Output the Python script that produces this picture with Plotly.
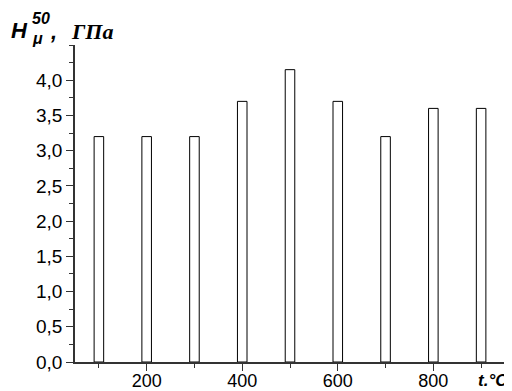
import plotly.graph_objects as go

temperatures = [100, 200, 300, 400, 500, 600, 700, 800, 900]
hardness = [3.2, 3.2, 3.2, 3.7, 4.15, 3.7, 3.2, 3.6, 3.6]
x_tick_vals = [200, 400, 600, 800]
x_tick_text = ["200", "400", "600", "800"]
y_tick_vals = [0.0, 0.5, 1.0, 1.5, 2.0, 2.5, 3.0, 3.5, 4.0]
y_tick_text = ["0,0", "0,5", "1,0", "1,5", "2,0", "2,5", "3,0", "3,5", "4,0"]

# the page body has an 8px margin, so the figure starts at (8, 8) in the window
OFF = 8
W, H = 512 - OFF, 391 - OFF
L, R, T, B = 75 - OFF, 7, 45 - OFF, 29
pw, ph = W - L - R, H - T - B

def px_x(px):  # window pixel -> paper
    return (px - OFF - L) / pw

def px_y(py):
    return (H - B - (py - OFF)) / ph

fig = go.Figure()
fig.add_trace(go.Bar(
    x=temperatures, y=hardness, width=20,
    marker=dict(color="white", line=dict(color="black", width=1)),
))

font = "Liberation Sans, Arial, sans-serif"
serif = "Liberation Serif, Times New Roman, serif"
axis_col = "#333333"
fig.update_layout(
    width=W, height=H,
    margin=dict(l=L, r=R, t=T, b=B, pad=0, autoexpand=False),
    paper_bgcolor="white", plot_bgcolor="white",
    showlegend=False,
    font=dict(family=font, size=19, color="black"),
    xaxis=dict(
        range=[50, 950], tickvals=x_tick_vals, ticktext=x_tick_text,
        ticks="outside", ticklen=7, tickwidth=1, tickcolor=axis_col,
        showline=True, linecolor=axis_col, linewidth=1.5,
        showgrid=False, zeroline=False, automargin=False,
        ticklabelstandoff=-5,
        minor=dict(ticks="outside", ticklen=4, dtick=100, tick0=0, tickcolor=axis_col, showgrid=False),
        tickfont=dict(size=18),
    ),
    yaxis=dict(
        range=[0, 4.5], tickvals=y_tick_vals, ticktext=y_tick_text,
        ticks="outside", ticklen=7, tickwidth=1, tickcolor=axis_col,
        showline=True, linecolor=axis_col, linewidth=1.5,
        showgrid=False, zeroline=False, automargin=False,
        minor=dict(ticks="outside", ticklen=4, dtick=0.25, tick0=0, tickcolor=axis_col, showgrid=False),
        tickfont=dict(size=19),
    ),
)

def note(text, x, y, size, family=font, xanchor="left"):
    fig.add_annotation(
        xref="paper", yref="paper", x=px_x(x), y=px_y(y),
        xanchor=xanchor, yanchor="middle", showarrow=False,
        text=text, font=dict(family=family, size=size, color="black"),
        borderpad=0,
    )

# y-axis title: H with stacked superscript 50 and subscript mu
note("<b><i>H</i></b>", 10, 30, 22)
note("<b><i>50</i></b>", 31, 18, 16)
note("<b><i>μ</i></b>", 31, 39, 16)
note("<b><i>,</i></b>", 49, 31, 22)
note("<b><i>ГПа</i></b>", 70, 31, 22, family=serif)

# x-axis title
note("<b><i>t.°C</i></b>", 509, 380, 17, xanchor="right")

fig.write_html("out.html")
